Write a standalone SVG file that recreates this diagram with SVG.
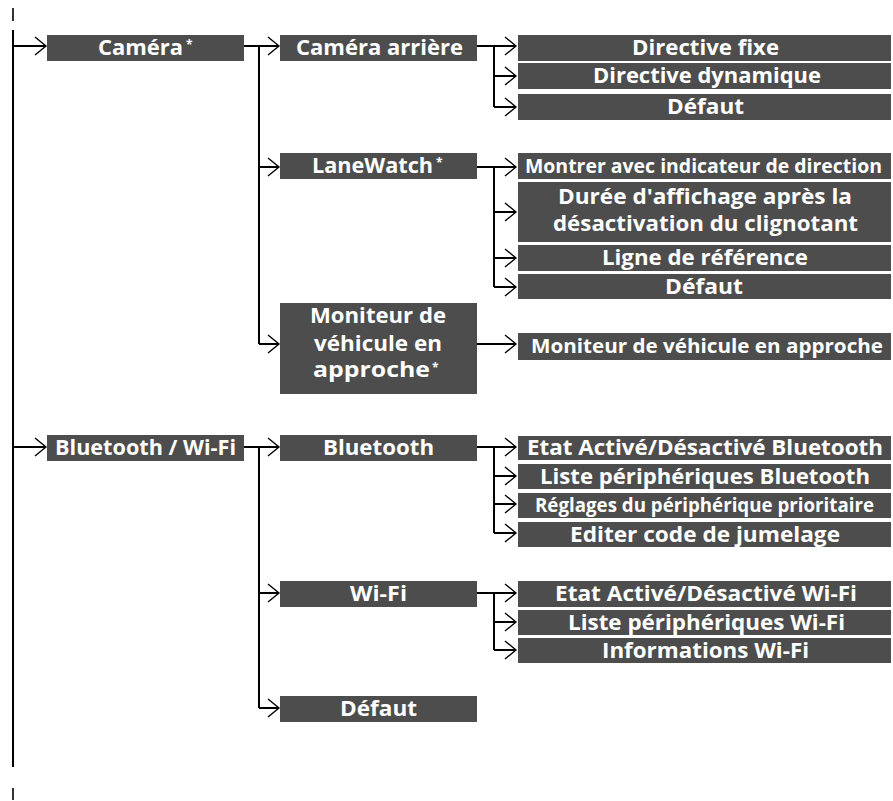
<svg xmlns="http://www.w3.org/2000/svg" width="893" height="801" viewBox="0 0 893 801">
<style>
.box{fill:#4d4d4d}
.t{font-family:"Open Sans","Noto Sans",sans-serif;font-weight:700;font-size:21px;fill:#fff}
.c{font-family:"Open Sans","Noto Sans",sans-serif;font-weight:700;font-size:19px;fill:#fff}
.s{font-family:"Open Sans","Noto Sans",sans-serif;font-weight:700;font-size:12px;fill:#fff}
.ln{stroke:#000;stroke-width:2;fill:none}
.ar{stroke:#000;stroke-width:2;fill:none;marker-end:url(#ah)}
.tick{stroke:#333;stroke-width:2}
</style>
<defs>
<marker id="ah" markerUnits="userSpaceOnUse" markerWidth="14" markerHeight="22" viewBox="-12 -10 14 20" refX="0" refY="0" orient="auto" overflow="visible">
<path d="M-11,-9 L0,0 L-11,9" fill="none" stroke="#000" stroke-width="1.4"/>
</marker>
</defs>
<g id="page-marks">
<line class="tick" x1="13" y1="8" x2="13" y2="21"/>
<line class="tick" x1="13" y1="788" x2="13" y2="800"/>
</g>
<g id="connectors">
<line class="ln" x1="13" y1="30" x2="13" y2="767"/>
<line class="ar" x1="13" y1="46" x2="46" y2="46"/>
<line class="ar" x1="13" y1="447" x2="46" y2="447"/>
<path class="ln" d="M244,46 H259 V344"/>
<line class="ar" x1="244" y1="46" x2="279" y2="46"/>
<line class="ar" x1="259" y1="167" x2="279" y2="167"/>
<line class="ar" x1="259" y1="344" x2="279" y2="344"/>
<path class="ln" d="M477,46 H494 V107"/>
<line class="ar" x1="477" y1="46" x2="516" y2="46"/>
<line class="ar" x1="494" y1="76" x2="516" y2="76"/>
<line class="ar" x1="494" y1="107" x2="516" y2="107"/>
<path class="ln" d="M477,167 H494 V287"/>
<line class="ar" x1="477" y1="167" x2="516" y2="167"/>
<line class="ar" x1="494" y1="212" x2="516" y2="212"/>
<line class="ar" x1="494" y1="258" x2="516" y2="258"/>
<line class="ar" x1="494" y1="287" x2="516" y2="287"/>
<line class="ar" x1="477" y1="344" x2="516" y2="344"/>
<path class="ln" d="M244,447 H259 V708"/>
<line class="ar" x1="244" y1="447" x2="279" y2="447"/>
<line class="ar" x1="259" y1="593" x2="279" y2="593"/>
<line class="ar" x1="259" y1="708" x2="279" y2="708"/>
<path class="ln" d="M477,447 H494 V533"/>
<line class="ar" x1="477" y1="447" x2="516" y2="447"/>
<line class="ar" x1="494" y1="476" x2="516" y2="476"/>
<line class="ar" x1="494" y1="504" x2="516" y2="504"/>
<line class="ar" x1="494" y1="533" x2="516" y2="533"/>
<path class="ln" d="M477,593 H494 V650"/>
<line class="ar" x1="477" y1="593" x2="516" y2="593"/>
<line class="ar" x1="494" y1="622" x2="516" y2="622"/>
<line class="ar" x1="494" y1="650" x2="516" y2="650"/>
</g>
<g id="camera"><rect class="box" x="47" y="35" width="197" height="26"/><text class="t" x="98" y="55" textLength="85" lengthAdjust="spacingAndGlyphs">Caméra</text><text class="s" x="186" y="49">*</text></g>
<g id="camera-arriere"><rect class="box" x="280" y="35" width="197" height="26"/><text class="t" x="296" y="55" textLength="167" lengthAdjust="spacingAndGlyphs">Caméra arrière</text></g>
<g id="directive-fixe"><rect class="box" x="518" y="35" width="373" height="26"/><text class="t" x="632" y="55" textLength="147" lengthAdjust="spacingAndGlyphs">Directive fixe</text></g>
<g id="directive-dynamique"><rect class="box" x="518" y="63" width="373" height="26"/><text class="t" x="593" y="83" textLength="228" lengthAdjust="spacingAndGlyphs">Directive dynamique</text></g>
<g id="defaut-camera"><rect class="box" x="518" y="94" width="373" height="26"/><text class="t" x="667" y="114" textLength="77" lengthAdjust="spacingAndGlyphs">Défaut</text></g>
<g id="lanewatch"><rect class="box" x="280" y="153" width="197" height="26"/><text class="t" x="312" y="173" textLength="121" lengthAdjust="spacingAndGlyphs">LaneWatch</text><text class="s" x="436" y="167">*</text></g>
<g id="montrer"><rect class="box" x="518" y="153" width="373" height="26"/><text class="c" x="525" y="173" textLength="357" lengthAdjust="spacingAndGlyphs">Montrer avec indicateur de direction</text></g>
<g id="duree"><rect class="box" x="518" y="182" width="373" height="60"/><text class="t" x="558" y="204" textLength="294" lengthAdjust="spacingAndGlyphs">Durée d'affichage après la</text><text class="t" x="553" y="231" textLength="305" lengthAdjust="spacingAndGlyphs">désactivation du clignotant</text></g>
<g id="ligne-reference"><rect class="box" x="518" y="245" width="373" height="26"/><text class="t" x="602" y="265" textLength="206" lengthAdjust="spacingAndGlyphs">Ligne de référence</text></g>
<g id="defaut-lanewatch"><rect class="box" x="518" y="274" width="373" height="25"/><text class="t" x="665" y="294" textLength="78" lengthAdjust="spacingAndGlyphs">Défaut</text></g>
<g id="moniteur"><rect class="box" x="280" y="303" width="197" height="91"/><text class="t" x="310" y="323" textLength="136" lengthAdjust="spacingAndGlyphs">Moniteur de</text><text class="t" x="314" y="351" textLength="128" lengthAdjust="spacingAndGlyphs">véhicule en</text><text class="t" x="313" y="377" textLength="117" lengthAdjust="spacingAndGlyphs">approche</text><text class="s" x="432" y="372">*</text></g>
<g id="moniteur-approche"><rect class="box" x="518" y="333" width="373" height="27"/><text class="c" x="531" y="353" textLength="352" lengthAdjust="spacingAndGlyphs">Moniteur de véhicule en approche</text></g>
<g id="bluetooth-wifi"><rect class="box" x="47" y="435" width="197" height="26"/><text class="t" x="55" y="455" textLength="181" lengthAdjust="spacingAndGlyphs">Bluetooth / Wi-Fi</text></g>
<g id="bluetooth"><rect class="box" x="280" y="435" width="197" height="26"/><text class="t" x="323" y="455" textLength="111" lengthAdjust="spacingAndGlyphs">Bluetooth</text></g>
<g id="etat-bt"><rect class="box" x="518" y="436" width="373" height="24"/><text class="t" x="527" y="455" textLength="356" lengthAdjust="spacingAndGlyphs">Etat Activé/Désactivé Bluetooth</text></g>
<g id="liste-bt"><rect class="box" x="518" y="464" width="373" height="25"/><text class="t" x="540" y="484" textLength="330" lengthAdjust="spacingAndGlyphs">Liste périphériques Bluetooth</text></g>
<g id="reglages"><rect class="box" x="518" y="493" width="373" height="25"/><text class="c" x="535" y="512" textLength="339" lengthAdjust="spacingAndGlyphs">Réglages du périphérique prioritaire</text></g>
<g id="editer"><rect class="box" x="518" y="522" width="373" height="25"/><text class="t" x="570" y="542" textLength="270" lengthAdjust="spacingAndGlyphs">Editer code de jumelage</text></g>
<g id="wifi"><rect class="box" x="280" y="581" width="197" height="26"/><text class="t" x="350" y="601" textLength="57" lengthAdjust="spacingAndGlyphs">Wi-Fi</text></g>
<g id="etat-wifi"><rect class="box" x="518" y="581" width="373" height="26"/><text class="t" x="555" y="601" textLength="302" lengthAdjust="spacingAndGlyphs">Etat Activé/Désactivé Wi-Fi</text></g>
<g id="liste-wifi"><rect class="box" x="518" y="610" width="373" height="25"/><text class="t" x="568" y="630" textLength="277" lengthAdjust="spacingAndGlyphs">Liste périphériques Wi-Fi</text></g>
<g id="info-wifi"><rect class="box" x="518" y="638" width="373" height="25"/><text class="t" x="602" y="658" textLength="207" lengthAdjust="spacingAndGlyphs">Informations Wi-Fi</text></g>
<g id="defaut-bt"><rect class="box" x="280" y="696" width="197" height="26"/><text class="t" x="340" y="716" textLength="77" lengthAdjust="spacingAndGlyphs">Défaut</text></g>
</svg>
